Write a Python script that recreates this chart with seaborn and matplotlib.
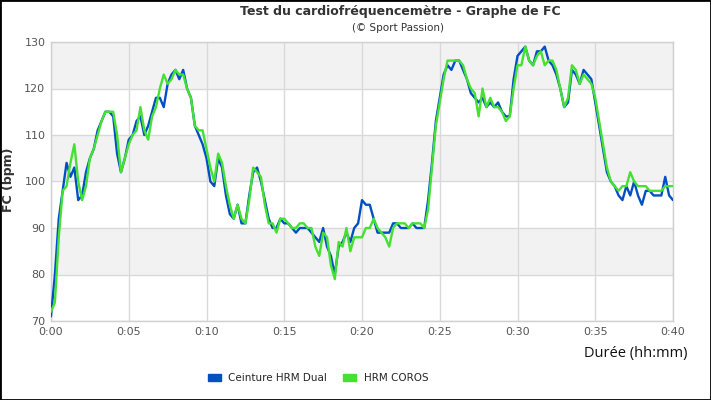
import numpy as np
import pandas as pd
import matplotlib
matplotlib.use("Agg")
import matplotlib.pyplot as plt
import seaborn as sns
from matplotlib.patches import Patch, Rectangle

# ---- data (heart rate, bpm, sampled every 15 s) ----
series_names = ["Ceinture HRM Dual", "HRM COROS"]
minutes = np.arange(161) * 0.25

hr_dual = [
    71, 80, 92, 98, 104, 101, 103, 96, 97, 102, 105, 107, 111, 113, 115, 115, 114, 106, 102, 105,
    109, 110, 113, 114, 110, 112, 115, 118, 118, 116, 121, 123, 124, 122, 124, 120, 118, 112, 110, 108,
    105, 100, 99, 105, 103, 97, 93, 92, 95, 91, 91, 97, 102, 103, 100, 96, 92, 90, 90, 92,
    91, 91, 90, 89, 90, 90, 90, 89, 88, 87, 90, 86, 84, 80, 86, 87, 89, 87, 90, 91,
    96, 95, 95, 92, 89, 89, 89, 89, 91, 91, 90, 90, 90, 91, 90, 90, 90, 96, 104, 113,
    118, 123, 125, 124, 126, 126, 124, 122, 119, 118, 117, 118, 116, 117, 116, 117, 115, 114, 114, 122,
    127, 128, 129, 126, 125, 128, 128, 129, 126, 125, 123, 120, 116, 117, 124, 123, 121, 124, 123, 122,
    117, 112, 107, 102, 100, 99, 97, 96, 99, 97, 100, 97, 95, 98, 98, 97, 97, 97, 101, 97,
    96,
]

hr_coros = [
    72, 74, 88, 98, 99, 104, 108, 100, 96, 99, 105, 107, 110, 113, 115, 115, 115, 110, 102, 105,
    108, 110, 111, 116, 111, 109, 114, 116, 120, 123, 121, 122, 124, 123, 123, 120, 118, 112, 111, 111,
    107, 103, 100, 106, 104, 99, 95, 92, 95, 92, 91, 96, 103, 102, 101, 95, 91, 91, 89, 92,
    92, 91, 90, 90, 91, 91, 90, 90, 86, 84, 89, 88, 82, 79, 87, 86, 90, 85, 88, 88,
    88, 90, 90, 92, 90, 89, 88, 86, 90, 91, 91, 91, 90, 91, 91, 91, 90, 94, 103, 112,
    117, 122, 126, 126, 126, 126, 125, 122, 120, 119, 114, 120, 116, 118, 116, 116, 115, 113, 114, 120,
    125, 125, 129, 126, 125, 127, 128, 125, 126, 126, 124, 120, 116, 118, 125, 124, 121, 123, 122, 121,
    118, 113, 108, 103, 100, 99, 98, 99, 99, 102, 100, 99, 99, 99, 98, 98, 98, 98, 99, 99,
    99,
]

x_ticks = [0, 5, 10, 15, 20, 25, 30, 35, 40]
x_tick_labels = ["0:00", "0:05", "0:10", "0:15", "0:20", "0:25", "0:30", "0:35", "0:40"]
y_ticks = [70, 80, 90, 100, 110, 120, 130]

colors = {"Ceinture HRM Dual": "#0050c4", "HRM COROS": "#44e032"}

df = pd.DataFrame({
    "t": np.concatenate([minutes, minutes]),
    "FC": hr_dual + hr_coros,
    "Capteur": [series_names[0]] * len(hr_dual) + [series_names[1]] * len(hr_coros),
})

sns.set_theme(style="white")
plt.rcParams["font.family"] = ["DejaVu Sans"]

fig = plt.figure(figsize=(7.11, 4.00), dpi=100)
ax = fig.add_axes([51 / 711, 1 - 321 / 400, (673 - 51) / 711, (321 - 42) / 400])

for lo in (80, 100, 120):
    ax.axhspan(lo, lo + 10, color="#f2f2f2", zorder=0, lw=0)

sns.lineplot(data=df, x="t", y="FC", hue="Capteur", hue_order=series_names,
             palette=colors, linewidth=1.7, ax=ax, legend=False, zorder=3)

ax.set_xlim(0, 40)
ax.set_ylim(70, 130)
ax.set_xticks(x_ticks)
ax.set_xticklabels(x_tick_labels)
ax.set_yticks(y_ticks)
ax.grid(True, color="#d9d9d9", linewidth=1.0, zorder=1)
ax.set_axisbelow(True)
for s in ax.spines.values():
    s.set_color("#d0d0d0")
    s.set_linewidth(1.0)
ax.tick_params(axis="both", labelsize=8, colors="#555555", length=0, pad=4)
ax.set_xlabel("")
ax.set_ylabel("")

fig.text(9 / 711, 1 - 180 / 400, "FC (bpm)", rotation=90, ha="center", va="center",
         fontsize=9, fontweight="bold", color="#333333")
fig.text(687 / 711, 1 - 353 / 400, "Durée (hh:mm)", ha="right", va="center",
         fontsize=10.5, color="#111111", family=["Open Sans", "DejaVu Sans"])

fig.text(400 / 711, 1 - 11 / 400, "Test du cardiofréquencemètre - Graphe de FC",
         ha="center", va="center", fontsize=9, fontweight="bold", color="#333333")
fig.text(398 / 711, 1 - 28 / 400, "(© Sport Passion)", ha="center", va="center",
         fontsize=7.5, color="#333333")

handles = [Patch(facecolor=colors[n], edgecolor=colors[n], label=n) for n in series_names]
leg = fig.legend(handles=handles, loc="center", bbox_to_anchor=(318 / 711, 1 - 378 / 400),
                 ncol=2, frameon=False, fontsize=7.5, handlelength=1.3, handleheight=0.6,
                 columnspacing=1.5, handletextpad=0.7)

fig.patches.append(Rectangle((0, 0), 1, 1, transform=fig.transFigure, fill=False,
                             edgecolor="black", linewidth=2, zorder=10))

fig.savefig("out.png", dpi=100)
